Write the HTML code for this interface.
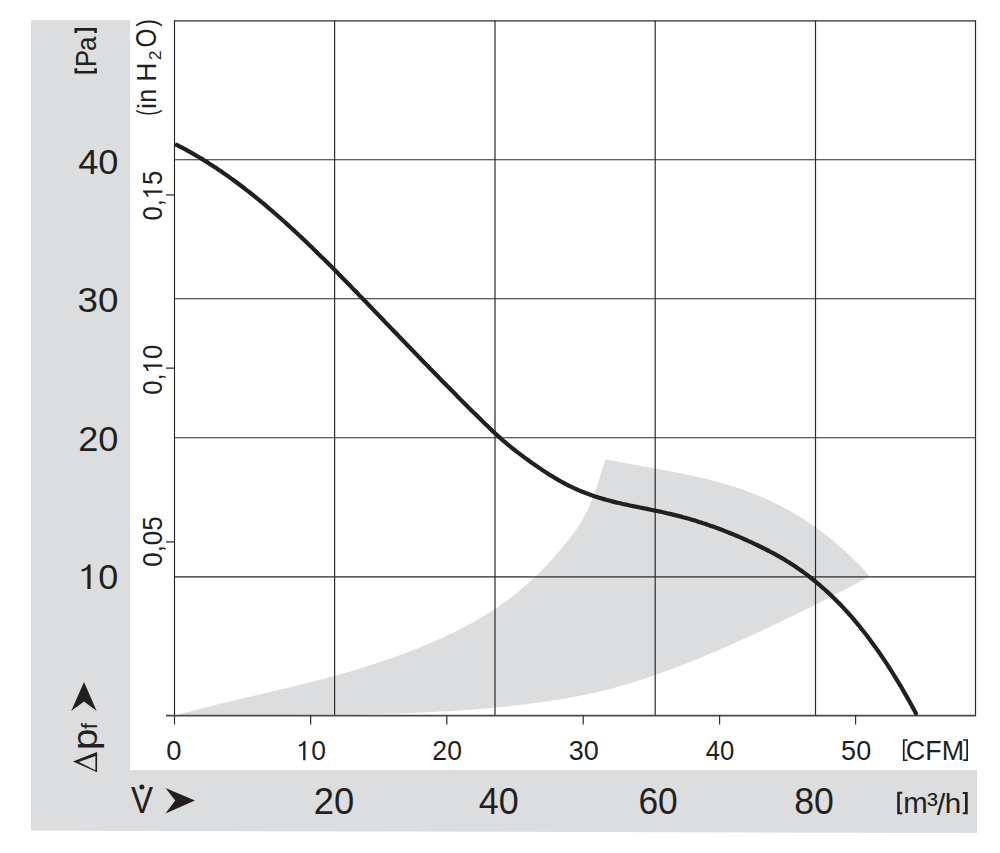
<!DOCTYPE html>
<html><head><meta charset="utf-8"><style>
html,body{margin:0;padding:0;background:#fff;}
svg{display:block;}
text{font-family:"Liberation Sans",sans-serif;font-kerning:none;}
</style></head><body>
<svg width="1000" height="853" viewBox="0 0 1000 853">
<rect width="1000" height="853" fill="#fff"/>
<path d="M31,20H130V770H977V833L31,830.6Z" fill="#dcdddf"/>
<path d="M174.0,715.6 176.0,715.2 178.0,714.6 180.0,714.1 182.0,713.6 184.0,713.0 186.0,712.5 188.0,711.9 190.0,711.4 192.0,710.9 194.0,710.4 196.0,709.8 198.0,709.3 200.0,708.8 202.0,708.3 204.0,707.8 206.0,707.3 208.0,706.8 210.0,706.3 212.0,705.8 214.0,705.3 216.0,704.8 218.0,704.3 220.0,703.8 222.0,703.3 224.0,702.9 226.0,702.4 228.0,701.9 230.0,701.4 232.0,700.9 234.0,700.5 236.0,700.0 238.0,699.5 240.0,699.0 242.0,698.6 244.0,698.1 246.0,697.6 248.0,697.2 250.0,696.7 252.0,696.2 254.0,695.7 256.0,695.3 258.0,694.8 260.0,694.3 262.0,693.9 264.0,693.4 266.0,692.9 268.0,692.5 270.0,692.0 272.0,691.5 274.0,691.0 276.0,690.6 278.0,690.1 280.0,689.6 282.0,689.1 284.0,688.7 286.0,688.2 288.0,687.7 290.0,687.2 292.0,686.7 294.0,686.2 296.0,685.8 298.0,685.3 300.0,684.8 302.0,684.3 304.0,683.8 306.0,683.3 308.0,682.8 310.0,682.3 312.0,681.8 314.0,681.3 316.0,680.7 318.0,680.2 320.0,679.7 322.0,679.2 324.0,678.7 326.0,678.1 328.0,677.6 330.0,677.1 332.0,676.5 334.0,676.0 336.0,675.4 338.0,674.9 340.0,674.3 342.0,673.8 344.0,673.2 346.0,672.6 348.0,672.0 350.0,671.5 352.0,670.9 354.0,670.3 356.0,669.7 358.0,669.1 360.0,668.5 362.0,667.9 364.0,667.3 366.0,666.6 368.0,666.0 370.0,665.4 372.0,664.7 374.0,664.1 376.0,663.4 378.0,662.8 380.0,662.1 382.0,661.5 384.0,660.8 386.0,660.1 388.0,659.4 390.0,658.7 392.0,658.0 394.0,657.3 396.0,656.6 398.0,655.9 400.0,655.1 402.0,654.4 404.0,653.6 406.0,652.9 408.0,652.1 410.0,651.3 412.0,650.6 414.0,649.8 416.0,649.0 418.0,648.2 420.0,647.4 422.0,646.6 424.0,645.7 426.0,644.9 428.0,644.0 430.0,643.2 432.0,642.3 434.0,641.5 436.0,640.6 438.0,639.7 440.0,638.8 442.0,637.9 444.0,636.9 446.0,636.0 448.0,635.1 450.0,634.1 452.0,633.2 454.0,632.2 456.0,631.2 458.0,630.2 460.0,629.2 462.0,628.2 464.0,627.2 466.0,626.1 468.0,625.0 470.0,624.0 472.0,622.9 474.0,621.8 476.0,620.6 478.0,619.5 480.0,618.3 482.0,617.1 484.0,615.9 486.0,614.7 488.0,613.5 490.0,612.2 492.0,610.9 494.0,609.6 496.0,608.3 498.0,606.9 500.0,605.5 502.0,604.1 504.0,602.7 506.0,601.2 508.0,599.8 510.0,598.3 512.0,596.7 514.0,595.2 516.0,593.6 518.0,591.9 520.0,590.3 522.0,588.6 524.0,586.9 526.0,585.2 528.0,583.4 530.0,581.6 532.0,579.8 534.0,577.9 536.0,576.0 538.0,574.0 540.0,572.1 542.0,570.1 544.0,568.0 546.0,565.9 548.0,563.8 550.0,561.6 552.0,559.5 554.0,557.2 556.0,554.9 558.0,552.6 560.0,550.3 562.0,547.9 564.0,545.4 566.0,543.0 568.0,540.4 570.0,537.9 572.0,535.2 574.0,532.6 576.0,529.8 578.0,526.8 580.0,523.7 582.0,520.4 584.0,516.9 586.0,513.1 588.0,509.0 590.0,504.6 592.0,499.8 594.0,494.6 596.0,488.9 598.0,482.8 600.0,476.4 602.0,469.9 604.0,463.9 606.0,458.7 606.3,459.1 L606.3,459.1 608.3,459.9 610.3,460.3 612.3,460.7 614.3,461.1 616.3,461.4 618.3,461.8 620.3,462.2 622.3,462.6 624.3,463.0 626.3,463.3 628.3,463.7 630.3,464.1 632.3,464.4 634.3,464.8 636.3,465.2 638.3,465.5 640.3,465.9 642.3,466.2 644.3,466.6 646.3,466.9 648.3,467.3 650.3,467.6 652.3,468.0 654.3,468.4 656.3,468.7 658.3,469.1 660.3,469.4 662.3,469.8 664.3,470.2 666.3,470.5 668.3,470.9 670.3,471.3 672.3,471.7 674.3,472.0 676.3,472.4 678.3,472.8 680.3,473.2 682.3,473.6 684.3,474.0 686.3,474.4 688.3,474.9 690.3,475.3 692.3,475.7 694.3,476.1 696.3,476.6 698.3,477.0 700.3,477.5 702.3,478.0 704.3,478.4 706.3,478.9 708.3,479.4 710.3,479.9 712.3,480.4 714.3,481.0 716.3,481.5 718.3,482.0 720.3,482.6 722.3,483.2 724.3,483.7 726.3,484.3 728.3,484.9 730.3,485.5 732.3,486.2 734.3,486.8 736.3,487.5 738.3,488.1 740.3,488.8 742.3,489.5 744.3,490.2 746.3,490.9 748.3,491.7 750.3,492.4 752.3,493.2 754.3,494.0 756.3,494.8 758.3,495.6 760.3,496.4 762.3,497.3 764.3,498.1 766.3,499.0 768.3,499.9 770.3,500.8 772.3,501.8 774.3,502.7 776.3,503.7 778.3,504.7 780.3,505.7 782.3,506.8 784.3,507.8 786.3,508.9 788.3,510.0 790.3,511.1 792.3,512.3 794.3,513.4 796.3,514.6 798.3,515.8 800.3,517.1 802.3,518.3 804.3,519.6 806.3,520.9 808.3,522.2 810.3,523.6 812.3,524.9 814.3,526.3 816.3,527.8 818.3,529.2 820.3,530.7 822.3,532.2 824.3,533.7 826.3,535.3 828.3,536.8 830.3,538.4 832.3,540.1 834.3,541.7 836.3,543.4 838.3,545.2 840.3,546.9 842.3,548.7 844.3,550.5 846.3,552.3 848.3,554.2 850.3,556.1 852.3,558.0 854.3,560.0 856.3,562.0 858.3,564.0 860.3,566.0 862.3,568.1 864.3,570.2 866.3,572.4 868.3,574.5 869.2,576.2 L869.2,576.2 868.0,577.2 866.0,578.3 864.0,579.4 862.0,580.5 860.0,581.5 858.0,582.6 856.0,583.7 854.0,584.7 852.0,585.8 850.0,586.9 848.0,587.9 846.0,589.0 844.0,590.0 842.0,591.1 840.0,592.1 838.0,593.1 836.0,594.2 834.0,595.2 832.0,596.2 830.0,597.3 828.0,598.3 826.0,599.3 824.0,600.3 822.0,601.3 820.0,602.3 818.0,603.3 816.0,604.4 814.0,605.4 812.0,606.4 810.0,607.4 808.0,608.3 806.0,609.3 804.0,610.3 802.0,611.3 800.0,612.3 798.0,613.3 796.0,614.3 794.0,615.2 792.0,616.2 790.0,617.2 788.0,618.1 786.0,619.1 784.0,620.1 782.0,621.0 780.0,622.0 778.0,623.0 776.0,623.9 774.0,624.9 772.0,625.8 770.0,626.8 768.0,627.7 766.0,628.7 764.0,629.6 762.0,630.5 760.0,631.5 758.0,632.4 756.0,633.3 754.0,634.3 752.0,635.2 750.0,636.1 748.0,637.0 746.0,637.9 744.0,638.8 742.0,639.8 740.0,640.7 738.0,641.6 736.0,642.5 734.0,643.4 732.0,644.2 730.0,645.1 728.0,646.0 726.0,646.9 724.0,647.8 722.0,648.6 720.0,649.5 718.0,650.4 716.0,651.2 714.0,652.1 712.0,652.9 710.0,653.8 708.0,654.6 706.0,655.5 704.0,656.3 702.0,657.1 700.0,657.9 698.0,658.8 696.0,659.6 694.0,660.4 692.0,661.2 690.0,662.0 688.0,662.8 686.0,663.6 684.0,664.3 682.0,665.1 680.0,665.9 678.0,666.7 676.0,667.4 674.0,668.2 672.0,668.9 670.0,669.7 668.0,670.4 666.0,671.1 664.0,671.9 662.0,672.6 660.0,673.3 658.0,674.0 656.0,674.7 654.0,675.4 652.0,676.1 650.0,676.8 648.0,677.5 646.0,678.2 644.0,678.8 642.0,679.5 640.0,680.1 638.0,680.8 636.0,681.4 634.0,682.0 632.0,682.7 630.0,683.3 628.0,683.9 626.0,684.5 624.0,685.1 622.0,685.7 620.0,686.2 618.0,686.8 616.0,687.3 614.0,687.9 612.0,688.4 610.0,689.0 608.0,689.5 606.0,690.0 604.0,690.5 602.0,691.0 600.0,691.5 598.0,692.0 596.0,692.4 594.0,692.9 592.0,693.3 590.0,693.8 588.0,694.2 586.0,694.6 584.0,695.0 582.0,695.4 580.0,695.8 578.0,696.2 576.0,696.6 574.0,697.0 572.0,697.3 570.0,697.7 568.0,698.0 566.0,698.4 564.0,698.7 562.0,699.1 560.0,699.4 558.0,699.7 556.0,700.0 554.0,700.3 552.0,700.6 550.0,700.9 548.0,701.2 546.0,701.5 544.0,701.8 542.0,702.1 540.0,702.4 538.0,702.6 536.0,702.9 534.0,703.2 532.0,703.4 530.0,703.7 528.0,703.9 526.0,704.2 524.0,704.4 522.0,704.7 520.0,704.9 518.0,705.1 516.0,705.4 514.0,705.6 512.0,705.8 510.0,706.0 508.0,706.2 506.0,706.5 504.0,706.7 502.0,706.9 500.0,707.1 498.0,707.3 496.0,707.5 494.0,707.6 492.0,707.8 490.0,708.0 488.0,708.2 486.0,708.4 484.0,708.6 482.0,708.7 480.0,708.9 478.0,709.1 476.0,709.2 474.0,709.4 472.0,709.5 470.0,709.7 468.0,709.8 466.0,710.0 464.0,710.1 462.0,710.3 460.0,710.4 458.0,710.5 456.0,710.7 454.0,710.8 452.0,710.9 450.0,711.1 448.0,711.2 446.0,711.3 444.0,711.4 442.0,711.5 440.0,711.6 438.0,711.7 436.0,711.8 434.0,711.9 432.0,712.1 430.0,712.1 428.0,712.2 426.0,712.3 424.0,712.4 422.0,712.5 420.0,712.6 418.0,712.7 416.0,712.8 414.0,712.9 412.0,712.9 410.0,713.0 408.0,713.1 406.0,713.2 404.0,713.2 402.0,713.3 400.0,713.4 398.0,713.4 396.0,713.5 394.0,713.5 392.0,713.6 390.0,713.7 388.0,713.7 386.0,713.8 384.0,713.8 382.0,713.9 380.0,713.9 378.0,714.0 376.0,714.0 374.0,714.1 372.0,714.1 370.0,714.1 368.0,714.2 366.0,714.2 364.0,714.3 362.0,714.3 360.0,714.3 358.0,714.4 356.0,714.4 354.0,714.4 352.0,714.4 350.0,714.5 348.0,714.5 346.0,714.5 344.0,714.5 342.0,714.6 340.0,714.6 338.0,714.6 336.0,714.6 334.0,714.6 332.0,714.7 330.0,714.7 328.0,714.7 326.0,714.7 324.0,714.7 322.0,714.7 320.0,714.7 318.0,714.8 316.0,714.8 314.0,714.8 312.0,714.8 310.0,714.8 308.0,714.8 306.0,714.8 304.0,714.8 302.0,714.8 300.0,714.8 298.0,714.8 296.0,714.9 294.0,714.9 292.0,714.9 290.0,714.9 288.0,714.9 286.0,714.9 284.0,714.9 282.0,714.9 280.0,714.9 278.0,714.9 276.0,714.9 274.0,714.9 272.0,714.9 270.0,714.9 268.0,714.9 266.0,714.9 264.0,714.9 262.0,714.9 260.0,714.9 258.0,714.9 256.0,714.9 254.0,714.9 252.0,714.9 250.0,714.9 248.0,715.0 246.0,715.0 244.0,715.0 242.0,715.0 240.0,715.0 238.0,715.0 236.0,715.0 234.0,715.0 232.0,715.0 230.0,715.0 228.0,715.0 226.0,715.0 224.0,715.1 222.0,715.1 220.0,715.1 218.0,715.1 216.0,715.1 214.0,715.1 212.0,715.1 210.0,715.2 208.0,715.2 206.0,715.2 204.0,715.2 202.0,715.2 200.0,715.3 198.0,715.3 196.0,715.3 194.0,715.3 192.0,715.4 190.0,715.4 188.0,715.4 186.0,715.5 184.0,715.5 182.0,715.5 180.0,715.6 178.0,715.6 176.0,715.6 174.0,715.6 Z" fill="#dcdddf"/>
<path d="M334.6,20.85V715.6M495.0,20.85V715.6M655.2,20.85V715.6M815.5,20.85V715.6M174.5,159.75H975.5M174.5,298.75H975.5M174.5,437.75H975.5M174.5,576.8H975.5" stroke="#2c2a2b" stroke-width="1.2" fill="none"/>
<path d="M174.5,20.85H976.1" stroke="#2c2a2b" stroke-width="1.4" fill="none"/>
<path d="M975.5,20.85V715.6" stroke="#2c2a2b" stroke-width="1.2" fill="none"/>
<path d="M174.5,20.25V724.5" stroke="#231f20" stroke-width="1.1" fill="none"/>
<path d="M166,715.6H976.1" stroke="#4d4a4b" stroke-width="1.6" fill="none"/>
<path d="M310.6,715.6V724.5M446.8,715.6V724.5M583.2,715.6V724.5M719.6,715.6V724.5M855.6,715.6V724.5M166,541.9H174.5M166,368.2H174.5M166,194.9H174.5" stroke="#2c2a2b" stroke-width="1.2" fill="none"/>
<path d="M175.0,144.4 177.0,145.0 179.0,146.1 181.0,147.1 183.0,148.2 185.0,149.2 187.0,150.3 189.0,151.4 191.0,152.6 193.0,153.7 195.0,154.9 197.0,156.0 199.0,157.2 201.0,158.4 203.0,159.6 205.0,160.9 207.0,162.1 209.0,163.4 211.0,164.7 213.0,166.0 215.0,167.3 217.0,168.6 219.0,170.0 221.0,171.3 223.0,172.7 225.0,174.1 227.0,175.5 229.0,176.9 231.0,178.4 233.0,179.8 235.0,181.3 237.0,182.8 239.0,184.3 241.0,185.8 243.0,187.3 245.0,188.8 247.0,190.4 249.0,191.9 251.0,193.5 253.0,195.1 255.0,196.7 257.0,198.3 259.0,199.9 261.0,201.6 263.0,203.2 265.0,204.9 267.0,206.6 269.0,208.3 271.0,210.0 273.0,211.7 275.0,213.5 277.0,215.2 279.0,217.0 281.0,218.7 283.0,220.5 285.0,222.3 287.0,224.1 289.0,225.9 291.0,227.8 293.0,229.6 295.0,231.4 297.0,233.3 299.0,235.2 301.0,237.1 303.0,238.9 305.0,240.8 307.0,242.8 309.0,244.7 311.0,246.6 313.0,248.5 315.0,250.5 317.0,252.4 319.0,254.4 321.0,256.4 323.0,258.3 325.0,260.3 327.0,262.3 329.0,264.3 331.0,266.3 333.0,268.3 335.0,270.3 337.0,272.3 339.0,274.4 341.0,276.4 343.0,278.4 345.0,280.5 347.0,282.5 349.0,284.6 351.0,286.6 353.0,288.7 355.0,290.7 357.0,292.8 359.0,294.9 361.0,296.9 363.0,299.0 365.0,301.1 367.0,303.1 369.0,305.2 371.0,307.3 373.0,309.4 375.0,311.5 377.0,313.5 379.0,315.6 381.0,317.7 383.0,319.8 385.0,321.9 387.0,323.9 389.0,326.0 391.0,328.1 393.0,330.2 395.0,332.2 397.0,334.3 399.0,336.4 401.0,338.5 403.0,340.5 405.0,342.6 407.0,344.7 409.0,346.8 411.0,348.8 413.0,350.9 415.0,353.0 417.0,355.0 419.0,357.1 421.0,359.2 423.0,361.2 425.0,363.3 427.0,365.3 429.0,367.4 431.0,369.4 433.0,371.5 435.0,373.5 437.0,375.6 439.0,377.6 441.0,379.7 443.0,381.7 445.0,383.7 447.0,385.8 449.0,387.8 451.0,389.8 453.0,391.8 455.0,393.8 457.0,395.9 459.0,397.9 461.0,399.9 463.0,401.9 465.0,403.9 467.0,405.9 469.0,407.9 471.0,409.9 473.0,411.9 475.0,413.8 477.0,415.8 479.0,417.8 481.0,419.8 483.0,421.7 485.0,423.7 487.0,425.6 489.0,427.6 491.0,429.5 493.0,431.4 495.0,433.2 497.0,435.1 499.0,436.9 501.0,438.7 503.0,440.5 505.0,442.2 507.0,443.9 509.0,445.5 511.0,447.2 513.0,448.8 515.0,450.3 517.0,451.9 519.0,453.4 521.0,454.9 523.0,456.4 525.0,457.9 527.0,459.3 529.0,460.8 531.0,462.2 533.0,463.6 535.0,465.0 537.0,466.4 539.0,467.8 541.0,469.1 543.0,470.5 545.0,471.8 547.0,473.1 549.0,474.4 551.0,475.6 553.0,476.8 555.0,478.1 557.0,479.2 559.0,480.4 561.0,481.5 563.0,482.6 565.0,483.7 567.0,484.7 569.0,485.8 571.0,486.7 573.0,487.7 575.0,488.6 577.0,489.5 579.0,490.4 581.0,491.2 583.0,492.0 585.0,492.8 587.0,493.6 589.0,494.3 591.0,495.0 593.0,495.7 595.0,496.4 597.0,497.0 599.0,497.7 601.0,498.3 603.0,498.9 605.0,499.4 607.0,500.0 609.0,500.5 611.0,501.1 613.0,501.6 615.0,502.1 617.0,502.6 619.0,503.0 621.0,503.5 623.0,504.0 625.0,504.4 627.0,504.8 629.0,505.3 631.0,505.7 633.0,506.1 635.0,506.5 637.0,506.9 639.0,507.3 641.0,507.7 643.0,508.1 645.0,508.5 647.0,508.9 649.0,509.4 651.0,509.8 653.0,510.2 655.0,510.6 657.0,511.0 659.0,511.4 661.0,511.8 663.0,512.3 665.0,512.7 667.0,513.2 669.0,513.6 671.0,514.1 673.0,514.6 675.0,515.1 677.0,515.6 679.0,516.1 681.0,516.6 683.0,517.2 685.0,517.7 687.0,518.3 689.0,518.8 691.0,519.4 693.0,520.0 695.0,520.6 697.0,521.2 699.0,521.9 701.0,522.5 703.0,523.2 705.0,523.8 707.0,524.5 709.0,525.2 711.0,525.9 713.0,526.6 715.0,527.3 717.0,528.1 719.0,528.8 721.0,529.5 723.0,530.3 725.0,531.1 727.0,531.9 729.0,532.7 731.0,533.5 733.0,534.3 735.0,535.1 737.0,536.0 739.0,536.8 741.0,537.7 743.0,538.6 745.0,539.5 747.0,540.4 749.0,541.3 751.0,542.2 753.0,543.1 755.0,544.1 757.0,545.0 759.0,546.0 761.0,547.0 763.0,548.0 765.0,549.0 767.0,550.0 769.0,551.0 771.0,552.1 773.0,553.1 775.0,554.2 777.0,555.3 779.0,556.4 781.0,557.6 783.0,558.7 785.0,559.9 787.0,561.2 789.0,562.4 791.0,563.7 793.0,565.0 795.0,566.3 797.0,567.7 799.0,569.1 801.0,570.5 803.0,571.9 805.0,573.4 807.0,574.9 809.0,576.4 811.0,578.0 813.0,579.6 815.0,581.2 817.0,582.9 819.0,584.5 821.0,586.3 823.0,588.0 825.0,589.8 827.0,591.6 829.0,593.4 831.0,595.3 833.0,597.3 835.0,599.2 837.0,601.2 839.0,603.2 841.0,605.3 843.0,607.4 845.0,609.6 847.0,611.7 849.0,614.0 851.0,616.2 853.0,618.5 855.0,620.9 857.0,623.3 859.0,625.7 861.0,628.2 863.0,630.7 865.0,633.2 867.0,635.8 869.0,638.5 871.0,641.2 873.0,643.9 875.0,646.7 877.0,649.5 879.0,652.3 881.0,655.2 883.0,658.2 885.0,661.2 887.0,664.2 889.0,667.3 891.0,670.4 893.0,673.6 895.0,676.8 897.0,680.1 899.0,683.4 901.0,686.7 903.0,690.1 905.0,693.6 907.0,697.1 909.0,700.6 911.0,704.2 913.0,707.9 915.0,711.6 915.9,713.4" stroke="#231f20" stroke-width="4.2" fill="none" stroke-linecap="butt" stroke-linejoin="round"/>
<circle cx="915.9" cy="713.4" r="2.1" fill="#231f20"/>
<text transform="matrix(0.3618,0,0,0.35875,78.17,174.25)" font-size="100" fill="#231f20" >40</text>
<text transform="matrix(0.36709,0,0,0.35734,77.602,311.85)" font-size="100" fill="#231f20" >30</text>
<text transform="matrix(0.3617,0,0,0.35452,78.181,451.35)" font-size="100" fill="#231f20" >20</text>
<g transform="matrix(0.36015,0,0,0.35593,78.347,589.05)" fill="#231f20"><text font-size="100" > 0</text><path transform="translate(0.000,0) scale(0.048828,-0.048828)" d="M515,0H695V1409H560C520,1280 370,1150 185,1135V1005C330,1015 450,1075 515,1140Z"/></g>
<text transform="matrix(0.36365,0,0,0.36582,313.77,813.54)" font-size="100" fill="#231f20" >20</text>
<text transform="matrix(0.35895,0,0,0.36582,478.68,813.54)" font-size="100" fill="#231f20" >40</text>
<text transform="matrix(0.35405,0,0,0.36582,638.4,813.54)" font-size="100" fill="#231f20" >60</text>
<text transform="matrix(0.35639,0,0,0.36582,794.15,813.54)" font-size="100" fill="#231f20" >80</text>
<text transform="matrix(0.27404,0,0,0.27542,166.33,760.23)" font-size="100" fill="#231f20" >0</text>
<g transform="matrix(0.26452,0,0,0.27825,296.51,760.23)" fill="#231f20"><text font-size="100" > 0</text><path transform="translate(0.000,0) scale(0.048828,-0.048828)" d="M515,0H695V1409H560C520,1280 370,1150 185,1135V1005C330,1015 450,1075 515,1140Z"/></g>
<text transform="matrix(0.2659,0,0,0.27683,432.36,760.03)" font-size="100" fill="#231f20" >20</text>
<text transform="matrix(0.27049,0,0,0.27683,568.67,760.03)" font-size="100" fill="#231f20" >30</text>
<text transform="matrix(0.25707,0,0,0.2726,705.71,760.03)" font-size="100" fill="#231f20" >40</text>
<text transform="matrix(0.27003,0,0,0.2726,841.12,760.03)" font-size="100" fill="#231f20" >50</text>
<path d="M902.9,739.2H907.6V740.7H904.6V759.4H907.6V760.9H902.9Z" fill="#231f20"/>
<text transform="matrix(0.26903,0,0,0.28531,905.83,760.12)" font-size="100" fill="#231f20" >CFM</text>
<path d="M968,739.2H963.1V740.8H966.3V759.3H963.1V760.9H968Z" fill="#231f20"/>
<path d="M897.2,791.7H902.3V793.8H899.8V812.3H902.3V814.2H897.2Z" fill="#231f20"/>
<text transform="matrix(0.294,0,0,0.29921,903.15,812.6)" font-size="100" fill="#231f20" >m</text>
<text transform="matrix(0.32635,0,0,0.29896,926.97,813.84)" font-size="100" fill="#231f20" >³</text>
<text transform="matrix(0.30594,0,0,0.30094,936.8,814.91)" font-size="100" fill="#231f20" >/</text>
<text transform="matrix(0.2963,0,0,0.26911,944.75,812.6)" font-size="100" fill="#231f20" >h</text>
<path d="M967.7,791.9H962.75V794H965V812.3H962.75V814.2H967.7Z" fill="#231f20"/>
<g transform="matrix(0,-0.2568,0.27825,0,162.33,220.6)" fill="#231f20"><text font-size="100" >0, 5</text><path transform="translate(83.398,0) scale(0.048828,-0.048828)" d="M515,0H695V1409H560C520,1280 370,1150 185,1135V1005C330,1015 450,1075 515,1140Z"/></g>
<g transform="matrix(0,-0.25854,0.27825,0,162.33,394.81)" fill="#231f20"><text font-size="100" >0, 0</text><path transform="translate(83.398,0) scale(0.048828,-0.048828)" d="M515,0H695V1409H560C520,1280 370,1150 185,1135V1005C330,1015 450,1075 515,1140Z"/></g>
<text transform="matrix(0,-0.25895,0.27825,0,162.33,566.71)" font-size="100" fill="#231f20" >0,05</text>
<text transform="matrix(0,-0.18481,0.27693,0,156.27,115.85)" font-size="100" fill="#231f20" >(</text>
<text transform="matrix(0,-0.28444,0.25807,0,156.1,109.2)" font-size="100" fill="#231f20" >i</text>
<text transform="matrix(0,-0.24717,0.26762,0,156.1,102.84)" font-size="100" fill="#231f20" >n</text>
<text transform="matrix(0,-0.26495,0.28053,0,156.1,81.773)" font-size="100" fill="#231f20" >H</text>
<text transform="matrix(0,-0.17561,0.16756,0,161.4,60.183)" font-size="100" fill="#231f20" >2</text>
<text transform="matrix(0,-0.24318,0.29096,0,156.22,47.552)" font-size="100" fill="#231f20" >O</text>
<text transform="matrix(0,-0.23384,0.27693,0,156.27,26.837)" font-size="100" fill="#231f20" >)</text>
<path d="M74.5,68.3H77.2V71H94.2V68.3H96.9V73.4H74.5Z" fill="#231f20"/>
<text transform="matrix(0,-0.25553,0.29216,0,95.9,66.996)" font-size="100" fill="#231f20" >P</text>
<text transform="matrix(0,-0.25892,0.27927,0,95.627,51)" font-size="100" fill="#231f20" >a</text>
<path d="M74.5,32.9H77.2V30.8H94.2V32.9H96.9V28.1H74.5Z" fill="#231f20"/>
<path fill-rule="evenodd" d="M72.95,761.5L97.1,751.9V772.3ZM78.9,762.1L95.4,770.3V755.9Z" fill="#231f20"/>
<text transform="matrix(0,-0.38247,0.35833,0,96.864,750.07)" font-size="100" fill="#231f20" >p</text>
<text transform="matrix(0,-0.21121,0.22802,0,96.9,728.9)" font-size="100" fill="#231f20" >f</text>
<text transform="matrix(0.3312,0,0,0.37501,131.05,812.9)" font-size="100" fill="#231f20" >V</text>
<circle cx="141.9" cy="786.9" r="2.5" fill="#231f20"/>
<path d="M84,681.9 L96.7,710.9 L84,701.6 L71.2,710.9 Z" fill="#231f20"/>
<path d="M165.5,787.9 L195,800.4 L165.5,813.4 L175.2,800.6 Z" fill="#231f20"/>
</svg>
</body></html>
